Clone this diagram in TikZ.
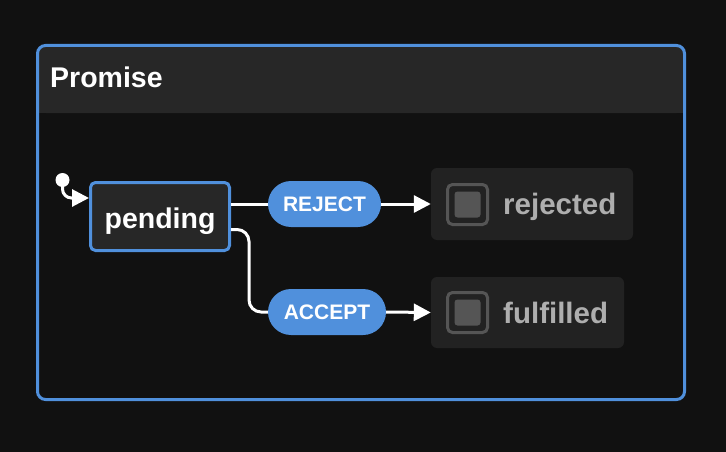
\documentclass[tikz,border=0pt]{standalone}
\usepackage{fontspec}
\setmainfont{Liberation Sans}
\usetikzlibrary{arrows.meta}

\definecolor{bg}{HTML}{111111}
\definecolor{statefill}{HTML}{272727}
\definecolor{finalfill}{HTML}{222222}
\definecolor{xblue}{HTML}{5090DC}
\definecolor{iconcol}{HTML}{555555}
\definecolor{finaltext}{HTML}{AEAEAE}

\begin{document}
\begin{tikzpicture}[x=1pt, y=-1pt,
    state/.style={draw=xblue, line width=3pt, fill=statefill, rounded corners=5pt,
      minimum width=139pt, minimum height=68pt, inner sep=0pt,
      text height=29pt, text depth=6pt, text=white,
      font=\fontsize{28.5}{34}\selectfont\bfseries},
    event/.style={fill=xblue, rounded corners=23pt, minimum height=46pt, inner sep=0pt,
      text=white, font=\fontsize{21}{25}\selectfont\bfseries},
    finalbox/.style={fill=finalfill, rounded corners=6pt, inner sep=0pt},
    icon/.style={draw=iconcol, line width=3pt, rounded corners=5pt, minimum size=40pt, inner sep=0pt},
    icondot/.style={fill=iconcol, rounded corners=3pt, minimum size=26pt, inner sep=0pt},
    finaltxt/.style={anchor=base west, inner sep=0pt, text=finaltext,
      font=\fontsize{29.5}{35}\selectfont\bfseries},
    trans/.style={draw=white, line width=3pt},
    tip/.style={-{Triangle[length=17pt,width=17pt]}}
  ]
    % Background
    \fill[bg] (0,0) rectangle (726,452);

    % Container
    \fill[statefill, rounded corners=8pt] (37.5,45.5) rectangle (684.5,113);
    \fill[statefill] (37.5,100) rectangle (684.5,113);
    \draw[xblue, line width=3pt, rounded corners=8pt] (37.5,45.5) rectangle (684.5,399.5);
    \node[anchor=base west, inner sep=0pt, text=white, font=\fontsize{28.5}{34}\selectfont\bfseries]
      (title) at (50,88) {Promise};

    % States
    \node[circle, fill=white, minimum size=14pt, inner sep=0pt] (init) at (62.5,180) {};
    \node[state] (pending) at (160,216.5) {pending};

    \node[finalbox, minimum width=202pt, minimum height=72pt] (rejected) at (532,204) {};
    \node[icon] (rejectedicon) at (467.5,204.5) {};
    \node[icondot] (rejecteddot) at (rejectedicon) {};
    \node[finaltxt] (rejectedlabel) at (503,214) {rejected};

    \node[finalbox, minimum width=193pt, minimum height=71pt] (fulfilled) at (527.5,312.5) {};
    \node[icon] (fulfilledicon) at (467.5,312.5) {};
    \node[icondot] (fulfilleddot) at (fulfilledicon) {};
    \node[finaltxt] (fulfilledlabel) at (503,323) {fulfilled};

    % Events
    \node[event, minimum width=113pt] (reject) at (324.5,204) {REJECT};
    \node[event, minimum width=118pt] (accept) at (327,312) {ACCEPT};

    % Transitions
    \draw[trans, tip, rounded corners=9pt] (init.center) |- ([yshift=-17pt]pending.north west);
    \draw[trans] (pending.east |- reject.west) -- (reject.west);
    \draw[trans, tip] (reject.east) -- (rejected.west);
    \draw[trans, rounded corners=12pt] ([yshift=-13pt]pending.east) -- ++(18,0) |- (accept.west);
    \draw[trans, tip] (accept.east) -- (fulfilled.west);

\end{tikzpicture}
\end{document}
